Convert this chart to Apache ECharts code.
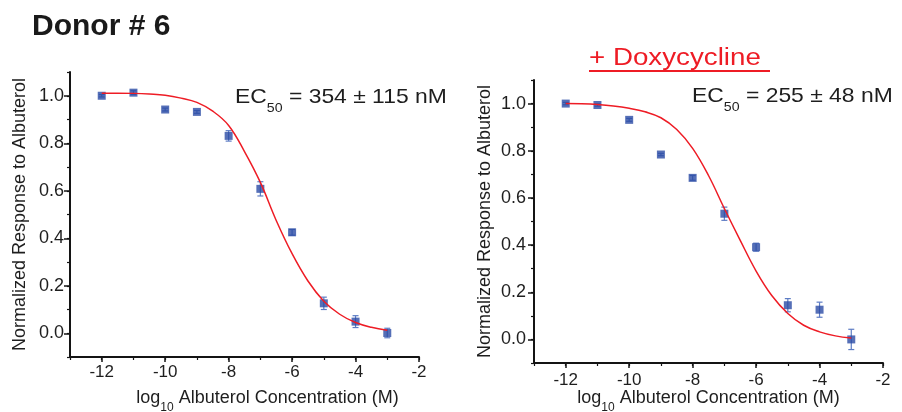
<!DOCTYPE html>
<html><head><meta charset="utf-8">
<script src="https://cdn.jsdelivr.net/npm/echarts@6/dist/echarts.min.js"></script>
<style>html,body{margin:0;padding:0;background:#fff}#c{width:902px;height:412px}</style>
</head><body><div id="c"></div>
<script>
// ---- data ----
const concentrations = [-12, -11, -10, -9, -8, -7, -6, -5, -4, -3];
const responseControl = [1.0, 1.013, 0.942, 0.932, 0.831, 0.608, 0.425, 0.126, 0.049, 0.001];
const errorControl = [0.005, 0.008, 0.006, 0.006, 0.022, 0.03, 0.012, 0.026, 0.025, 0.02];
const responseDoxy = [1.0, 0.994, 0.931, 0.784, 0.685, 0.533, 0.391, 0.145, 0.126, 0.0];
const errorDoxy = [0.005, 0.005, 0.006, 0.005, 0.01, 0.028, 0.017, 0.028, 0.032, 0.043];
const fitX = [-12, -11.5, -11, -10.5, -10, -9.5, -9, -8.5, -8, -7.5, -7, -6.5, -6, -5.5, -5, -4.5, -4, -3.5, -3];
const fitControl = [1.011, 1.011, 1.010, 1.007, 1.002, 0.990, 0.972, 0.935, 0.875, 0.765, 0.635, 0.475, 0.335, 0.220, 0.135, 0.080, 0.045, 0.025, 0.013];
const fitDoxy = [1.0, 0.999, 0.996, 0.990, 0.980, 0.965, 0.940, 0.890, 0.810, 0.695, 0.555, 0.420, 0.290, 0.185, 0.110, 0.060, 0.032, 0.015, 0.006];
const xTickLabels = [-12, -10, -8, -6, -4, -2];
const yTickLabels = [0, 0.2, 0.4, 0.6, 0.8, 1.0];
const titleText = 'Donor # 6';
const doxyText = '+ Doxycycline';
const ec50Control = '354 ± 115 nM';
const ec50Doxy = '255 ± 48 nM';
const yName = 'Normalized Response to Albuterol';
const xName = 'log{s|10} Albuterol Concentration (M)';

// ---- styling ----
const FONT = 'Liberation Sans, Arial, Helvetica, sans-serif';
const AXIS = '#141414';
const TXT = '#1e1e1e';
const RED = '#ee1c25';
const BLUE = '#2b4ba5';
const ERR = '#5d7cc4';

const grids = [
  { left: 70, top: 72, width: 349, height: 285 },
  { left: 534, top: 80, width: 349, height: 283 }
];
const labelMarginX = [7, 9];
const labelMarginY = [6, 8];
const nameGapX = [25, 19];
const nameGapY = [41, 40];
const namePadX = [[0, 0, 0, 46], [0, 0, 0, 0]];

const xAxes = [], yAxes = [];
grids.forEach((g, gi) => {
  xAxes.push({
    type: 'value', gridIndex: gi, min: -13, max: -2, interval: 1, position: 'bottom',
    axisLine: { show: true, onZero: false, lineStyle: { color: AXIS, width: 2 } },
    axisTick: { show: true, length: 5, customValues: xTickLabels, lineStyle: { color: AXIS, width: 1.5 } },
    axisLabel: { customValues: xTickLabels, formatter: v => String(v), fontSize: 17, color: TXT, fontFamily: FONT, margin: labelMarginX[gi] },
    splitLine: { show: false },
    name: xName, nameLocation: 'middle', nameGap: nameGapX[gi], nameMoveOverlap: false,
    nameTextStyle: {
      fontSize: 18, color: TXT, fontFamily: FONT, padding: namePadX[gi],
      rich: { s: { fontSize: 12, color: TXT, fontFamily: FONT, padding: [20, 0, 0, 0] } }
    }
  });
  xAxes.push({
    type: 'value', gridIndex: gi, min: -13, max: -2, interval: 1, position: 'bottom',
    axisLine: { show: false, onZero: false },
    axisTick: { show: true, length: 3, lineStyle: { color: AXIS, width: 1.2 } },
    axisLabel: { show: false }, splitLine: { show: false }
  });
  yAxes.push({
    type: 'value', gridIndex: gi, min: -0.1, max: 1.1, interval: 0.1, position: 'left',
    axisLine: { show: true, onZero: false, lineStyle: { color: AXIS, width: 2 } },
    axisTick: { show: true, length: 6, customValues: yTickLabels, lineStyle: { color: AXIS, width: 1.5 } },
    axisLabel: { customValues: yTickLabels, formatter: v => v.toFixed(1), fontSize: 18, color: TXT, fontFamily: FONT, margin: labelMarginY[gi] },
    splitLine: { show: false },
    name: yName, nameLocation: 'middle', nameGap: nameGapY[gi], nameMoveOverlap: false,
    nameTextStyle: { fontSize: 18, color: TXT, fontFamily: FONT }
  });
  yAxes.push({
    type: 'value', gridIndex: gi, min: -0.1, max: 1.1, interval: 0.1, position: 'left',
    axisLine: { show: false, onZero: false },
    axisTick: { show: true, length: 3, lineStyle: { color: AXIS, width: 1.2 } },
    axisLabel: { show: false }, splitLine: { show: false }
  });
});

function renderErr(params, api) {
  const x = api.value(0), lo = api.value(1), hi = api.value(2);
  const p1 = api.coord([x, lo]), p2 = api.coord([x, hi]);
  const w = 3;
  const style = { stroke: ERR, lineWidth: 1.2 };
  return { type: 'group', children: [
    { type: 'line', shape: { x1: p1[0], y1: p1[1], x2: p2[0], y2: p2[1] }, style },
    { type: 'line', shape: { x1: p1[0] - w, y1: p1[1], x2: p1[0] + w, y2: p1[1] }, style },
    { type: 'line', shape: { x1: p2[0] - w, y1: p2[1], x2: p2[0] + w, y2: p2[1] }, style }
  ]};
}

function panelSeries(gi, resp, err, fit) {
  const xi = gi * 2, yi = gi * 2;
  return [
    { type: 'custom', xAxisIndex: xi, yAxisIndex: yi, renderItem: renderErr, clip: false, z: 2,
      encode: { x: 0, y: [1, 2] },
      data: concentrations.map((c, i) => [c, resp[i] - err[i], resp[i] + err[i]]) },
    { type: 'scatter', xAxisIndex: xi, yAxisIndex: yi, symbol: 'rect', symbolSize: 8, z: 3,
      itemStyle: { color: BLUE }, data: concentrations.map((c, i) => [c, resp[i]]) },
    { type: 'line', xAxisIndex: xi, yAxisIndex: yi, smooth: 0.4, showSymbol: false, z: 4,
      lineStyle: { color: RED, width: 1.5 }, data: fitX.map((c, i) => [c, fit[i]]) }
  ];
}

const richEC = (fs) => ({
  m: { fontSize: fs, fontFamily: FONT, fill: TXT, color: TXT },
  s: { fontSize: 13, fontFamily: FONT, fill: TXT, color: TXT, padding: [22, 0, 0, 0] }
});

const option = {
  animation: false,
  backgroundColor: '#fff',
  textStyle: { fontFamily: FONT },
  grid: grids.map(g => Object.assign({ outerBoundsMode: 'none', containLabel: false }, g)),
  xAxis: xAxes,
  yAxis: yAxes,
  series: [].concat(
    panelSeries(0, responseControl, errorControl, fitControl),
    panelSeries(1, responseDoxy, errorDoxy, fitDoxy)
  ),
  graphic: [
    { type: 'text', x: 32, y: 27, style: { text: titleText, fontSize: 30, fontWeight: 'bold', fontFamily: FONT, fill: '#1a1a1a', textAlign: 'left', textVerticalAlign: 'middle', align: 'left', verticalAlign: 'middle' } },
    { type: 'text', x: 589, y: 59, scaleX: 1.18, style: { text: doxyText, fontSize: 23.5, fontFamily: FONT, fill: RED, textAlign: 'left', textVerticalAlign: 'middle', align: 'left', verticalAlign: 'middle' } },
    { type: 'line', shape: { x1: 589, y1: 71, x2: 770, y2: 71 }, style: { stroke: RED, lineWidth: 2 } },
    { type: 'text', x: 235, y: 97, scaleX: 1.09, style: { text: '{m|EC}{s|50}{m| = ' + ec50Control + '}', rich: richEC(21), fill: TXT, textAlign: 'left', textVerticalAlign: 'middle', align: 'left', verticalAlign: 'middle' } },
    { type: 'text', x: 692, y: 96, scaleX: 1.09, style: { text: '{m|EC}{s|50}{m| = ' + ec50Doxy + '}', rich: richEC(21), fill: TXT, textAlign: 'left', textVerticalAlign: 'middle', align: 'left', verticalAlign: 'middle' } }
  ]
};

const chart = echarts.init(document.getElementById('c'), null, { renderer: 'canvas' });
chart.setOption(option);
</script>
</body></html>
